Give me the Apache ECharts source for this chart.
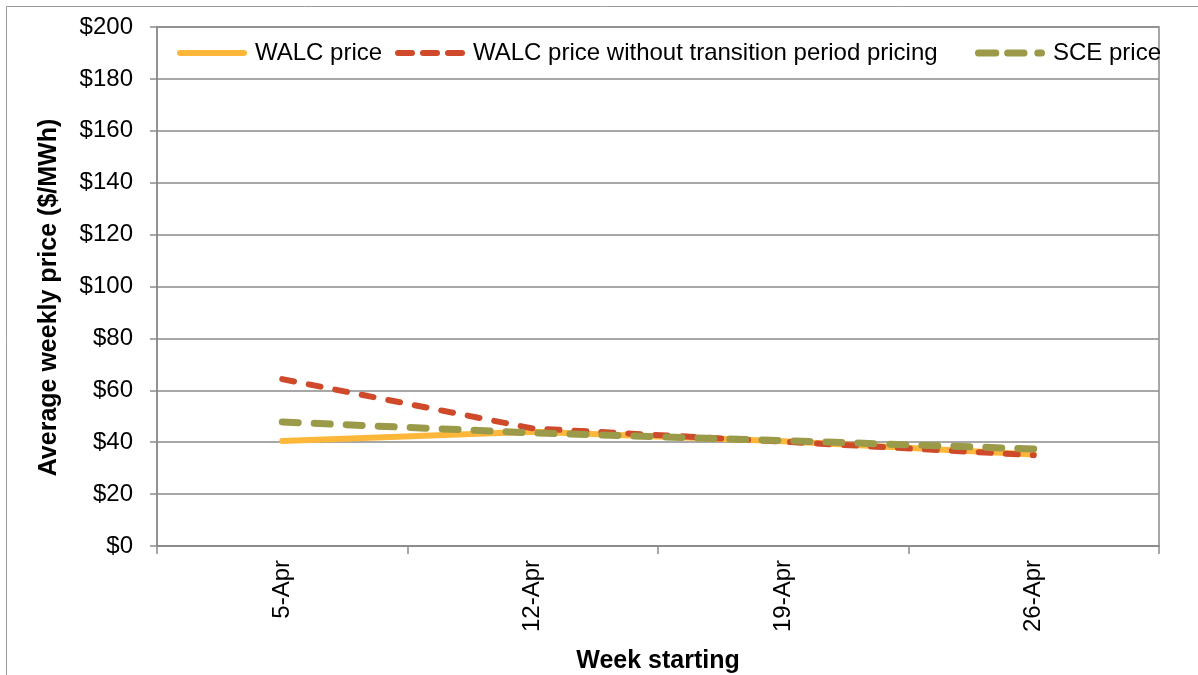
<!DOCTYPE html>
<html><head><meta charset="utf-8">
<script src="https://cdn.jsdelivr.net/npm/echarts@6/dist/echarts.min.js"></script>
<style>html,body{margin:0;padding:0;background:#fff}#c{width:1198px;height:675px}</style>
</head><body><div id="c"></div>
<script>
var categories = ['5-Apr', '12-Apr', '19-Apr', '26-Apr'];
var walcPrice = [40.5, 44.0, 40.4, 35.3];
var walcNoTransition = [64.3, 45.3, 40.2, 35.0];
var scePrice = [47.8, 43.6, 40.6, 37.4];
var yTicks = {min: 0, max: 200, interval: 20};
var seriesNames = ['WALC price', 'WALC price without transition period pricing', 'SCE price'];

var FONT = 'Liberation Sans, Arial, sans-serif';
var GREY = '#8a8a8a';
var C_ORANGE = '#FFB739', C_RED = '#CF4A2A', C_OLIVE = '#9A9A48';

var iconSolid = 'path://M3,0H67A3,3,0,0,1,67,6H3A3,3,0,0,1,3,0Z';
var iconRed = 'path://M3,0H17A3,3,0,0,1,17,6H3A3,3,0,0,1,3,0Z M28,0H42A3,3,0,0,1,42,6H28A3,3,0,0,1,28,0Z M53,0H67A3,3,0,0,1,67,6H53A3,3,0,0,1,53,0Z';
var iconOlive = 'path://M3.5,0H21.5A3.5,3.5,0,0,1,21.5,7H3.5A3.5,3.5,0,0,1,3.5,0Z M33.5,0H50.5A3.5,3.5,0,0,1,50.5,7H33.5A3.5,3.5,0,0,1,33.5,0Z M64.5,0H68.5A3.5,3.5,0,0,1,68.5,7H64.5A3.5,3.5,0,0,1,64.5,0Z';

function legendAt(left, name, icon, h) {
  return {
    left: left, top: 41, itemWidth: 70, itemHeight: h, padding: 0,
    symbolKeepAspect: false,
    textStyle: {fontFamily: FONT, fontSize: 24, color: '#000', padding: [0, 0, 0, 3]},
    data: [{name: name, icon: icon}]
  };
}

var chart = echarts.init(document.getElementById('c'));
chart.setOption({
  animation: false,
  backgroundColor: '#fff',
  graphic: [{type: 'rect', shape: {x: 6.5, y: 6.5, width: 1300, height: 800}, style: {fill: 'none', stroke: '#9a9a9a', lineWidth: 1}, silent: true, z: -1}],
  grid: {left: 157, right: 39, top: 27, bottom: 129, show: true, borderColor: GREY, borderWidth: 1.5, containLabel: false, outerBoundsMode: 'none'},
  legend: [
    legendAt(177, seriesNames[0], iconSolid, 6),
    legendAt(395, seriesNames[1], iconRed, 6),
    legendAt(975, seriesNames[2], iconOlive, 7)
  ],
  xAxis: {
    type: 'category', data: categories, boundaryGap: true,
    name: 'Week starting', nameLocation: 'middle', nameGap: 103,
    nameTextStyle: {fontFamily: FONT, fontSize: 25, fontWeight: 'bold', color: '#000'},
    axisLine: {lineStyle: {color: GREY, width: 1.5}},
    axisTick: {show: true, length: 8, interval: 0, lineStyle: {color: GREY, width: 1.5}},
    axisLabel: {rotate: 90, margin: 14, fontFamily: FONT, fontSize: 24, color: '#000', interval: 0}
  },
  yAxis: {
    type: 'value', min: yTicks.min, max: yTicks.max, interval: yTicks.interval,
    name: 'Average weekly price ($/MWh)', nameLocation: 'middle', nameGap: 95,
    nameTextStyle: {fontFamily: FONT, fontSize: 25, fontWeight: 'bold', color: '#000', padding: [0, 22, 0, 0]},
    axisLine: {show: true, lineStyle: {color: GREY, width: 1.5}},
    axisTick: {show: true, length: 7, lineStyle: {color: GREY, width: 1.5}},
    splitLine: {lineStyle: {color: GREY, width: 1.5}},
    axisLabel: {margin: 24, fontFamily: FONT, fontSize: 24, color: '#000', formatter: function (v) { return '$' + v; }}
  },
  series: [
    {name: seriesNames[0], type: 'line', data: walcPrice, symbol: 'none', z: 2,
      itemStyle: {color: C_ORANGE},
      lineStyle: {color: C_ORANGE, width: 6, cap: 'round'}},
    {name: seriesNames[1], type: 'line', data: walcNoTransition, symbol: 'none', z: 3,
      itemStyle: {color: C_RED},
      lineStyle: {color: C_RED, width: 6, type: [12, 15], cap: 'round'}},
    {name: seriesNames[2], type: 'line', data: scePrice, symbol: 'none', z: 4,
      itemStyle: {color: C_OLIVE},
      lineStyle: {color: C_OLIVE, width: 7, type: [16, 16], cap: 'round'}}
  ]
});
</script></body></html>
